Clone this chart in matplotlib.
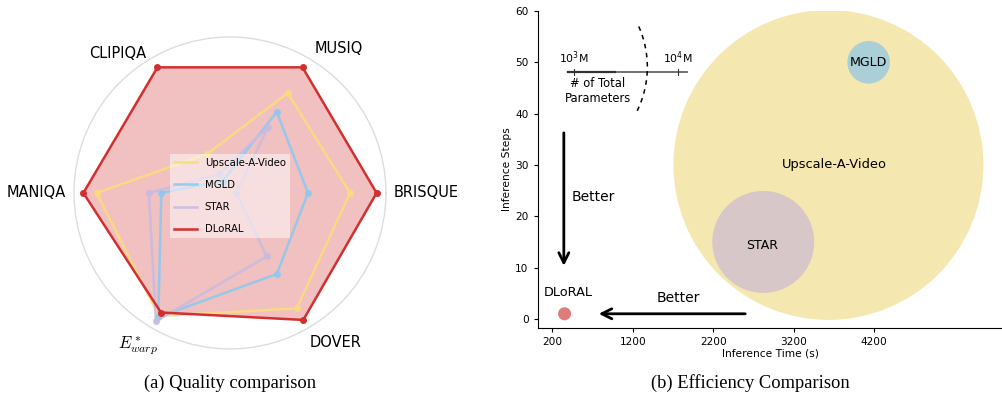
import numpy as np
import matplotlib.pyplot as plt

# ── Radar data (normalised scores, 0-1) ─────────────────────────────────────
metrics = ["BRISQUE", "MUSIQ", "CLIPIQA", "MANIQA", r"$E^*_{warp}$", "DOVER"]
radar_methods = ["Upscale-A-Video", "MGLD", "STAR", "DLoRAL"]
uav_scores = [0.77, 0.74, 0.29, 0.855, 0.91, 0.855]
mgld_scores = [0.50, 0.60, 0.09, 0.44, 0.92, 0.60]
star_scores = [0.04, 0.49, 0.14, 0.52, 0.95, 0.47]
dloral_scores = [0.94, 0.93, 0.93, 0.94, 0.885, 0.94]

# ── Efficiency data ─────────────────────────────────────────────────────────
eff_methods = ["Upscale-A-Video", "MGLD", "STAR", "DLoRAL"]
infer_time = [3630, 4130, 2820, 350]        # seconds
infer_steps = [30, 50, 15, 1]
bubble_area = [49800, 940, 5390, 88]        # marker area ~ # of total params
x_ticks = [200, 1200, 2200, 3200, 4200]
y_ticks = [0, 10, 20, 30, 40, 50, 60]

C_UAV = "#F9DC7E"
C_MGLD = "#8FC8F2"
C_STAR = "#C9BBE0"
C_DLORAL = "#D32F2F"

fig = plt.figure(figsize=(10.03, 3.93), dpi=100)

# ── (a) radar ───────────────────────────────────────────────────────────────
ax = fig.add_axes([0.0738, 0.112, 0.311, 0.794], projection="polar")
angles = np.deg2rad(np.arange(len(metrics)) * 60.0)
closed = np.append(angles, angles[0])

series = [
    (uav_scores, C_UAV, 0.9),
    (mgld_scores, C_MGLD, 0.9),
    (star_scores, C_STAR, 0.9),
    (dloral_scores, C_DLORAL, 1.0),
]
ax.fill(closed, np.append(dloral_scores, dloral_scores[0]), color=C_DLORAL,
        alpha=0.3, lw=0, zorder=1)
for name, (vals, col, a) in zip(radar_methods, series):
    v = np.append(vals, vals[0])
    ax.plot(closed, v, color=col, lw=1.8, alpha=a, label=name, zorder=2)
    ax.plot(angles, vals, "o", color=col, ms=4, alpha=a, zorder=3)

ax.set_ylim(0, 1)
ax.set_yticks([])
ax.set_xticks([])
ax.grid(False)
ax.spines["polar"].set_color("#dddddd")
ax.spines["polar"].set_linewidth(1.0)

label_pos = [(0, 1.05, "left"), (53.0, 1.16, "center"), (128.9, 1.15, "center"),
             (180, 1.05, "right"), (238.8, 1.14, "center"), (-54.8, 1.17, "center")]
for lab, (th, r, ha) in zip(metrics, label_pos):
    if lab.startswith("$"):
        ax.text(np.deg2rad(th), r, lab, ha=ha, va="center", fontsize=12,
                math_fontfamily="cm")
    else:
        ax.text(np.deg2rad(th), r, lab, ha=ha, va="center", fontsize=10.5)

leg = ax.legend(loc="center", bbox_to_anchor=(0.5, 0.49), fontsize=7.3,
                labelspacing=1.2, handlelength=2.2, framealpha=0.5,
                edgecolor="none", fancybox=False)

# ── (b) efficiency bubbles ──────────────────────────────────────────────────
bx = fig.add_axes([0.536, 0.165, 0.464, 0.807])
bub_colors = ["#F5E7B0", "#AACFD6", "#D8C7C8", "#E07B7B"]
for t, s, a, c in zip(infer_time, infer_steps, bubble_area, bub_colors):
    bx.scatter(t, s, s=a, color=c, edgecolors="none", zorder=2)

bx.text(3704, 30, "Upscale-A-Video", ha="center", va="center", fontsize=9.4, zorder=3)
bx.text(4129, 50, "MGLD", ha="center", va="center", fontsize=9.1, zorder=3)
bx.text(2804, 14.4, "STAR", ha="center", va="center", fontsize=9, zorder=3)
bx.text(391, 5.1, "DLoRAL", ha="center", va="center", fontsize=9.3, zorder=3)

# "Better" arrows
bx.annotate("", xy=(341, 9.8), xytext=(341, 36.8),
            arrowprops=dict(arrowstyle="->", lw=2, color="black",
                            mutation_scale=18))
bx.text(440, 23.8, "Better", ha="left", va="center", fontsize=10)
bx.annotate("", xy=(740, 1), xytext=(2630, 1),
            arrowprops=dict(arrowstyle="->", lw=2, color="black",
                            mutation_scale=18))
bx.text(1766, 4.0, "Better", ha="center", va="center", fontsize=10)

# parameter-scale legend
bx.plot([391, 1866], [48.1, 48.1], color="#666666", lw=1.3)
bx.plot([391, 979], [48.1, 48.1], color="#333333", lw=1.6)
bx.plot([466, 466], [47.5, 48.7], color="#333333", lw=0.8)
bx.plot([1754, 1754], [47.5, 48.7], color="#333333", lw=0.8)
bx.text(466, 49.2, r"10$^3$M", ha="center", va="bottom", fontsize=7.8)
bx.text(1754, 49.2, r"10$^4$M", ha="center", va="bottom", fontsize=7.8)
bx.text(766, 44.4, "# of Total\nParameters", ha="center", va="center",
        fontsize=8.3, linespacing=1.2)
# dashed arc (circle in screen space: 1250 x-units ~ 19.5 y-units)
arc_t = np.deg2rad(np.linspace(-26, 26, 60))
bx.plot(129 + 1250 * np.cos(arc_t), 49.1 + 19.5 * np.sin(arc_t),
        ls=(0, (3, 3)), lw=1.1, color="black")

bx.set_xlim(15, 5800)
bx.set_ylim(-1.8, 60)
bx.set_xticks(x_ticks)
bx.set_yticks(y_ticks)
bx.tick_params(labelsize=7.6, length=3)
bx.set_xlabel("Inference Time (s)", fontsize=7.7, labelpad=1)
bx.set_ylabel("Inference Steps", fontsize=7.7, labelpad=2)
bx.spines["top"].set_visible(False)
bx.spines["right"].set_visible(False)

fig.text(0.229, 0.025, "(a) Quality comparison", ha="center", va="center",
         fontsize=13.3, family="Liberation Serif")
fig.text(0.748, 0.025, "(b) Efficiency Comparison", ha="center", va="center",
         fontsize=13.3, family="Liberation Serif")

fig.savefig("out.png", dpi=100)
